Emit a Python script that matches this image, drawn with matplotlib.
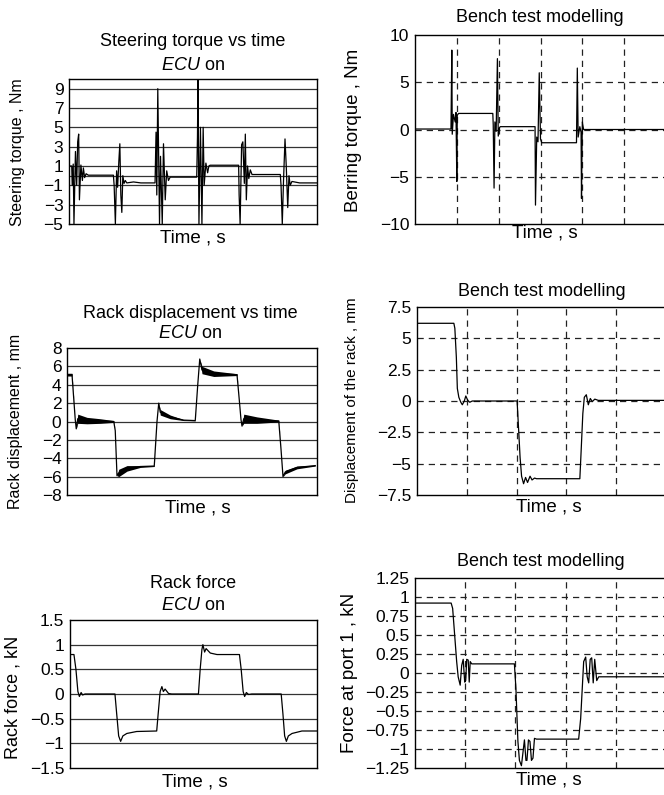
import numpy as np
import matplotlib
matplotlib.use("Agg")
import matplotlib.pyplot as plt

plt.rcParams['font.family'] = ['Liberation Sans', 'DejaVu Sans']
plt.rcParams['mathtext.fontset'] = 'custom'
plt.rcParams['mathtext.rm'] = 'Liberation Sans'
plt.rcParams['mathtext.it'] = 'Liberation Sans:italic'

W, H = 664, 795

# steering torque, ECU on (time in s, torque in Nm)
st_t = [0, 0.11, 0.13, 0.17, 0.20, 0.26, 0.31, 0.35, 0.39, 0.42, 0.48, 0.54, 0.58, 0.63, 0.69, 0.78,
        1.79, 1.82, 1.87, 1.92, 1.96, 2.01, 2.05, 2.09, 2.13, 2.17, 2.22, 2.27, 2.33, 2.6, 2.9,
        3.47, 3.51, 3.54, 3.58, 3.65, 3.69, 3.76, 3.81, 3.88, 3.94, 4.01, 4.08,
        5.15, 5.18, 5.20, 5.24, 5.30, 5.36, 5.41, 5.45, 5.52, 5.59, 5.64, 5.69,
        6.84, 6.86, 6.90, 6.96, 7.01, 7.07, 7.11, 7.15, 7.20, 7.25, 7.31, 7.38,
        8.52, 8.55, 8.60, 8.65, 8.71, 8.76, 8.82, 8.87, 8.92, 8.99, 9.3, 10.0]
st_v = [1.0, 1.0, -1.0, 1.2, -5.0, 2.5, -1.0, 3.5, 4.3, -2.5, 1.1, -0.5, 0.8, -0.2, 0.2, 0.05,
        0.05, -1.0, -5.0, 0.5, -1.2, 1.5, 3.3, -2.0, -3.8, 0.0, -0.8, -0.5, -0.75, -0.65, -0.75,
        -0.75, 4.5, -2.0, 9.0, -5.0, 2.0, -5.0, 3.3, -2.5, 0.5, -0.5, -0.15,
        -0.15, 4.0, 10.0, -5.0, 5.0, -5.0, 5.0, -1.0, 1.3, 0.3, 1.0, 1.08,
        1.08, -2.0, -5.0, 3.2, 3.5, -0.8, 4.3, -2.5, 1.0, -0.3, 0.6, 0.12,
        0.12, -1.0, -5.0, -0.5, 3.8, 1.0, -3.3, 0.0, -1.0, -0.6, -0.75, -0.75]

# bearing torque, bench model (Nm)
bt_t = [0, 0.86, 0.88, 0.89, 0.92, 0.96, 0.98, 1.00, 1.01, 1.04, 1.86, 1.87, 1.89, 1.91, 1.94, 1.97,
        1.99, 2.02, 2.04, 2.87, 2.88, 2.91, 2.94, 2.97, 3.00, 3.03, 3.86, 3.88, 3.90, 3.94, 3.97,
        3.98, 4.00, 4.03, 6.0]
bt_v = [0.05, 0.05, 8.4, -0.5, 1.6, 0.8, 1.8, -5.5, 1.5, 1.7, 1.7, 0.5, -6.2, 0.8, -0.2, 7.5,
        -0.7, 0.2, 0.3, 0.3, -8.0, -0.8, -1.3, 6.0, -1.0, -1.4, -1.4, 6.5, -0.8, 0.3, -0.3,
        -7.3, 0.8, 0.0, 0.0]

# rack displacement, ECU on (mm) with vibration band half-width
rd_t = [0, 0.2, 0.33, 0.37, 0.43, 0.8, 1.33, 1.87, 1.93, 2.0, 2.07, 2.4, 2.93, 3.49, 3.6, 3.67,
        3.73, 4.13, 4.67, 5.13, 5.23, 5.31, 5.4, 5.87, 6.8, 6.87, 6.96, 7.0, 7.07, 7.6, 8.47,
        8.56, 8.64, 8.73, 9.2, 9.93]
rd_v = [5.1, 5.1, 0.2, -0.8, 0.3, 0.1, 0.05, 0.0, -1.0, -5.9, -5.6, -5.1, -4.9, -4.85, 0.0, 2.0,
        1.0, 0.5, 0.15, 0.1, 4.0, 6.8, 5.6, 5.2, 5.1, 3.0, 0.2, -0.5, 0.3, 0.15, 0.05,
        -3.0, -6.0, -5.5, -5.0, -4.8]
rd_band = [0.15, 0.15, 0, 0, 0.5, 0.35, 0.25, 0.1, 0, 0, 0.4, 0.3, 0.1, 0.05, 0, 0,
           0.3, 0.2, 0.05, 0.03, 0, 0, 0.4, 0.3, 0.1, 0, 0, 0, 0.5, 0.35, 0.1,
           0, 0, 0.2, 0.15, 0.05]

# rack displacement, bench model (mm)
dr_t = [0, 0.74, 0.76, 0.79, 0.81, 0.84, 0.88, 0.91, 0.95, 0.98, 1.02, 1.06, 1.11, 2.01, 2.03,
        2.07, 2.10, 2.14, 2.18, 2.22, 2.27, 2.31, 2.36, 2.40, 3.27, 3.29, 3.33, 3.36, 3.40,
        3.44, 3.48, 3.52, 3.57, 3.64, 5.0]
dr_v = [6.2, 6.2, 5.8, 3.5, 1.0, 0.3, -0.1, -0.3, 0.0, 0.4, 0.05, -0.1, 0.0, 0.0, -1.5,
        -4.5, -6.0, -6.6, -6.1, -6.5, -6.0, -6.3, -6.15, -6.2, -6.2, -4.5, -1.0, 0.3, 0.5,
        -0.3, 0.2, -0.05, 0.15, 0.05, 0.05]

# rack force, ECU on (kN)
rf_t = [0, 0.16, 0.24, 0.32, 0.38, 0.45, 0.51, 0.61, 1.82, 1.89, 1.97, 2.05, 2.14, 2.3, 2.7,
        3.51, 3.57, 3.65, 3.72, 3.78, 3.85, 3.99, 4.12, 5.2, 5.27, 5.34, 5.38, 5.45, 5.51,
        5.68, 5.95, 6.86, 6.93, 7.01, 7.07, 7.14, 7.23, 7.36, 8.55, 8.62, 8.69, 8.76, 8.84,
        8.99, 9.39, 10.0]
rf_v = [0.8, 0.8, 0.5, 0.05, -0.05, 0.03, -0.02, 0.0, 0.0, -0.4, -0.85, -0.96, -0.85, -0.8, -0.76,
        -0.75, -0.4, 0.05, 0.15, 0.05, 0.1, 0.01, 0.0, 0.0, 0.5, 0.9, 1.0, 0.85, 0.92,
        0.83, 0.8, 0.8, 0.5, 0.05, -0.05, 0.03, -0.01, 0.0, 0.0, -0.4, -0.85, -0.96, -0.85,
        -0.8, -0.75, -0.75]

# force at port 1, bench model (kN)
fp_t = [0, 0.72, 0.75, 0.79, 0.83, 0.86, 0.90, 0.93, 0.96, 0.99, 1.01, 1.03, 1.06, 1.08, 1.10,
        1.13, 1.98, 2.01, 2.05, 2.08, 2.12, 2.15, 2.18, 2.21, 2.23, 2.26, 2.29, 2.32, 2.35,
        2.38, 2.42, 3.26, 3.30, 3.34, 3.36, 3.40, 3.43, 3.46, 3.49, 3.52, 3.55, 3.58, 3.62,
        3.66, 5.0]
fp_v = [0.92, 0.92, 0.85, 0.5, 0.15, -0.05, -0.16, 0.1, 0.18, -0.12, -0.1, 0.18, 0.17, -0.12, 0.15,
        0.12, 0.12, -0.2, -0.9, -1.15, -1.22, -1.05, -0.88, -1.15, -1.15, -0.88, -0.9, -1.15, -1.12,
        -0.86, -0.87, -0.87, -0.6, -0.1, 0.15, 0.21, -0.05, -0.13, 0.18, 0.2, -0.13, 0.18, -0.1,
        -0.05, -0.05]


def px_axes(l, t, r, b):
    return [l / W, 1 - b / H, (r - l) / W, (b - t) / H]


def ftext(x, y, s, **kw):
    fig.text(x / W, 1 - y / H, s, ha='center', va='center', **kw)


def style_left(ax, ylim, ticks, grid):
    ax.set_xlim(0, 10)
    ax.set_ylim(*ylim)
    ax.set_xticks([])
    ax.set_yticks(ticks)
    ax.tick_params(length=0, pad=4, labelsize=12.5)
    for g in grid:
        ax.axhline(g, color='#333333', lw=0.9, zorder=1)
    for s in ax.spines.values():
        s.set_linewidth(1.0)


def style_right(ax, xmax, ylim, ticks, labels, grid):
    ax.set_xlim(0, xmax)
    ax.set_ylim(*ylim)
    ax.set_xticks([])
    ax.set_yticks(ticks)
    ax.set_yticklabels(labels)
    ax.tick_params(length=0, pad=4, labelsize=12.5)
    for g in grid:
        ax.axhline(g, color='#222222', lw=0.9, ls=(0, (5, 4)), zorder=1)
    for k in range(1, xmax):
        ax.axvline(k, color='#222222', lw=0.9, ls=(0, (5, 4)), zorder=1)
    ax.spines['right'].set_visible(False)
    for s in ax.spines.values():
        s.set_linewidth(1.0)


fig = plt.figure(figsize=(W / 100, H / 100), dpi=100)

# top left
ax1 = fig.add_axes(px_axes(69, 79, 317, 224))
ax1.plot(st_t, st_v, color='black', lw=0.9, zorder=3)
style_left(ax1, (-5, 10), [9, 7, 5, 3, 1, -1, -3, -5], [9, 7, 5, 3, 1, 0, -1, -3])
ftext(193, 42, 'Steering torque vs time', fontsize=13)
ftext(193, 65, r'$\mathit{ECU}$ on', fontsize=13)
ftext(18, 152, 'Steering torque , Nm', fontsize=11.5, rotation=90)
ftext(193, 238, 'Time , s', fontsize=13.5)

# top right
ax2 = fig.add_axes(px_axes(415, 35, 666, 224))
ax2.plot(bt_t, bt_v, color='black', lw=0.9, zorder=3)
style_right(ax2, 6, (-10, 10), [10, 5, 0, -5, -10], ['10', '5', '0', '\u22125', '\u221210'], [5, 0, -5])
ftext(540, 18, 'Bench test modelling', fontsize=13)
ftext(354, 130, 'Berring torque , Nm', fontsize=13.5, rotation=90)
ftext(545, 233, 'Time , s', fontsize=13.5)

# middle left
ax3 = fig.add_axes(px_axes(67, 348, 317, 495))
lo = np.array(rd_v) - np.array(rd_band)
hi = np.array(rd_v) + np.array(rd_band)
ax3.fill_between(rd_t, lo, hi, color='black', lw=0, zorder=3)
ax3.plot(rd_t, rd_v, color='black', lw=0.9, zorder=3)
style_left(ax3, (-8, 8), [8, 6, 4, 2, 0, -2, -4, -6, -8], [6, 4, 2, 0, -2, -4, -6])
ftext(190, 313, 'Rack displacement vs time', fontsize=13)
ftext(190, 333, r'$\mathit{ECU}$ on', fontsize=13)
ftext(16, 421, 'Rack displacement , mm', fontsize=11.5, rotation=90)
ftext(198, 508, 'Time , s', fontsize=13.5)

# middle right
ax4 = fig.add_axes(px_axes(417, 307, 666, 495))
ax4.plot(dr_t, dr_v, color='black', lw=0.9, zorder=3)
style_right(ax4, 5, (-7.5, 7.5), [7.5, 5, 2.5, 0, -2.5, -5, -7.5],
            ['7.5', '5', '2.5', '0', '\u22122.5', '\u22125', '\u22127.5'], [5, 2.5, 0, -2.5, -5])
ftext(542, 292, 'Bench test modelling', fontsize=13)
ftext(352, 400, 'Displacement of the rack , mm', fontsize=11, rotation=90)
ftext(549, 507, 'Time , s', fontsize=13.5)

# bottom left
ax5 = fig.add_axes(px_axes(70, 620, 317, 768))
ax5.plot(rf_t, rf_v, color='black', lw=0.9, zorder=3)
style_left(ax5, (-1.5, 1.5), [1.5, 1, 0.5, 0, -0.5, -1, -1.5], [1, 0.5, 0, -0.5, -1])
ax5.set_yticklabels(['1.5', '1', '0.5', '0', '\u22120.5', '\u22121', '\u22121.5'])
ftext(193, 583, 'Rack force', fontsize=13)
ftext(193, 605, r'$\mathit{ECU}$ on', fontsize=13)
ftext(13, 697, 'Rack force , kN', fontsize=13, rotation=90)
ftext(195, 782, 'Time , s', fontsize=13.5)

# bottom right
ax6 = fig.add_axes(px_axes(415, 578, 666, 768))
ax6.plot(fp_t, fp_v, color='black', lw=0.9, zorder=3)
fticks = [1.25, 1, 0.75, 0.5, 0.25, 0, -0.25, -0.5, -0.75, -1, -1.25]
flabels = ['1.25', '1', '0.75', '0.5', '0.25', '0', '\u22120.25', '\u22120.5', '\u22120.75', '\u22121', '\u22121.25']
style_right(ax6, 5, (-1.25, 1.25), fticks, flabels, fticks[1:-1])
ftext(541, 562, 'Bench test modelling', fontsize=13)
ftext(349, 673, 'Force at port 1 , kN', fontsize=13.5, rotation=90)
ftext(549, 780, 'Time , s', fontsize=13.5)

fig.savefig('out.png', dpi=100)
